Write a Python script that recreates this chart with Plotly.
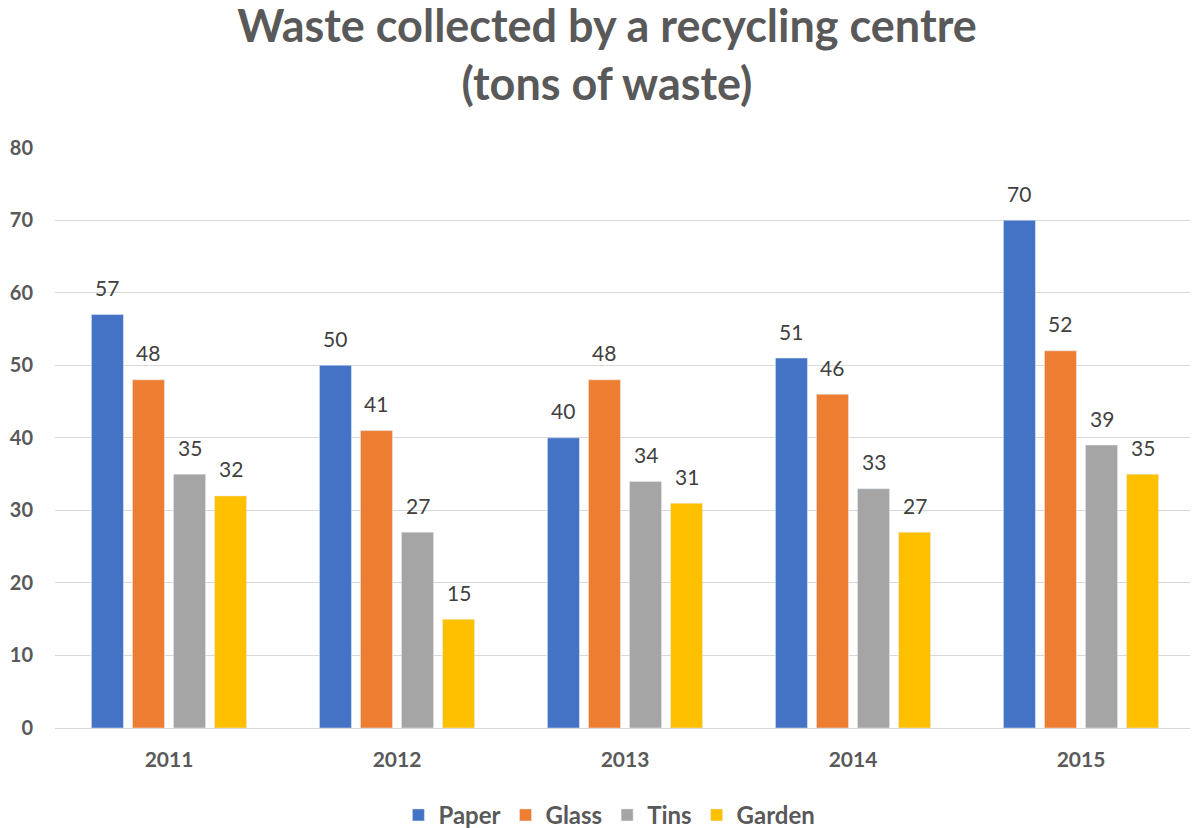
"""Waste collected by a recycling centre - grouped bar chart."""

import plotly.graph_objects as go

YEARS = ["2011", "2012", "2013", "2014", "2015"]
PAPER = [57, 50, 40, 51, 70]
GLASS = [48, 41, 48, 46, 52]
TINS = [35, 27, 34, 33, 39]
GARDEN = [32, 15, 31, 27, 35]

SERIES = [
    ("Paper", PAPER, "#4472C4"),
    ("Glass", GLASS, "#ED7D31"),
    ("Tins", TINS, "#A5A5A5"),
    ("Garden", GARDEN, "#FFC000"),
]

TEXT = "#595959"
FONT = "Lato, Open Sans, sans-serif"
BARGAP = 0.28
# page body has an 8px margin, margins below account for it
MARGIN = dict(l=47, r=11, t=139, b=108)
PLOT_W = 1198 - MARGIN["l"] - MARGIN["r"]

fig = go.Figure()
for name, values, color in SERIES:
    fig.add_trace(go.Bar(x=YEARS, y=values, name=name, marker_color=color))

# data labels above bars (Excel style offset); annotation x on a category
# axis is the category index
slot = PLOT_W / len(YEARS) * (1 - BARGAP) / len(SERIES)
for i, (name, values, color) in enumerate(SERIES):
    shift = (i - (len(SERIES) - 1) / 2) * slot
    for idx, v in enumerate(values):
        fig.add_annotation(
            x=idx, y=v, text=str(v), showarrow=False, xshift=shift, yshift=27,
            yanchor="middle", font=dict(size=21, color="#404040", family=FONT),
        )

fig.update_layout(
    width=1198, height=828,
    barmode="group", bargap=BARGAP, bargroupgap=0.22,
    paper_bgcolor="white", plot_bgcolor="white",
    font=dict(family=FONT, color=TEXT),
    title=dict(
        text="<b>Waste collected by a recycling centre<br>(tons of waste)</b>",
        x=0.5, xanchor="center", y=0.959, yanchor="top",
        font=dict(size=45, color=TEXT, family=FONT),
    ),
    margin=MARGIN,
    legend=dict(
        orientation="h", xref="container", yref="container",
        x=0.502, xanchor="center", y=0.025, yanchor="middle",
        font=dict(size=24, color=TEXT, family=FONT, weight="bold"),
    ),
)
fig.update_xaxes(
    type="category", categoryorder="array", categoryarray=YEARS,
    range=[-0.5, len(YEARS) - 0.5], autorange=False, automargin=False,
    tickfont=dict(size=21, color=TEXT, family=FONT, weight="bold"),
    ticks="outside", ticklen=13, tickcolor="white",
    showline=True, linecolor="#d9d9d9", linewidth=1,
)
fig.update_yaxes(
    range=[0, 80.1], autorange=False, automargin=False, dtick=10,
    gridcolor="#d9d9d9", gridwidth=1, zeroline=False,
    tickfont=dict(size=20, color=TEXT, family=FONT, weight="bold"),
    ticks="outside", ticklen=17, tickcolor="white",
)

fig.write_html("out.html")
